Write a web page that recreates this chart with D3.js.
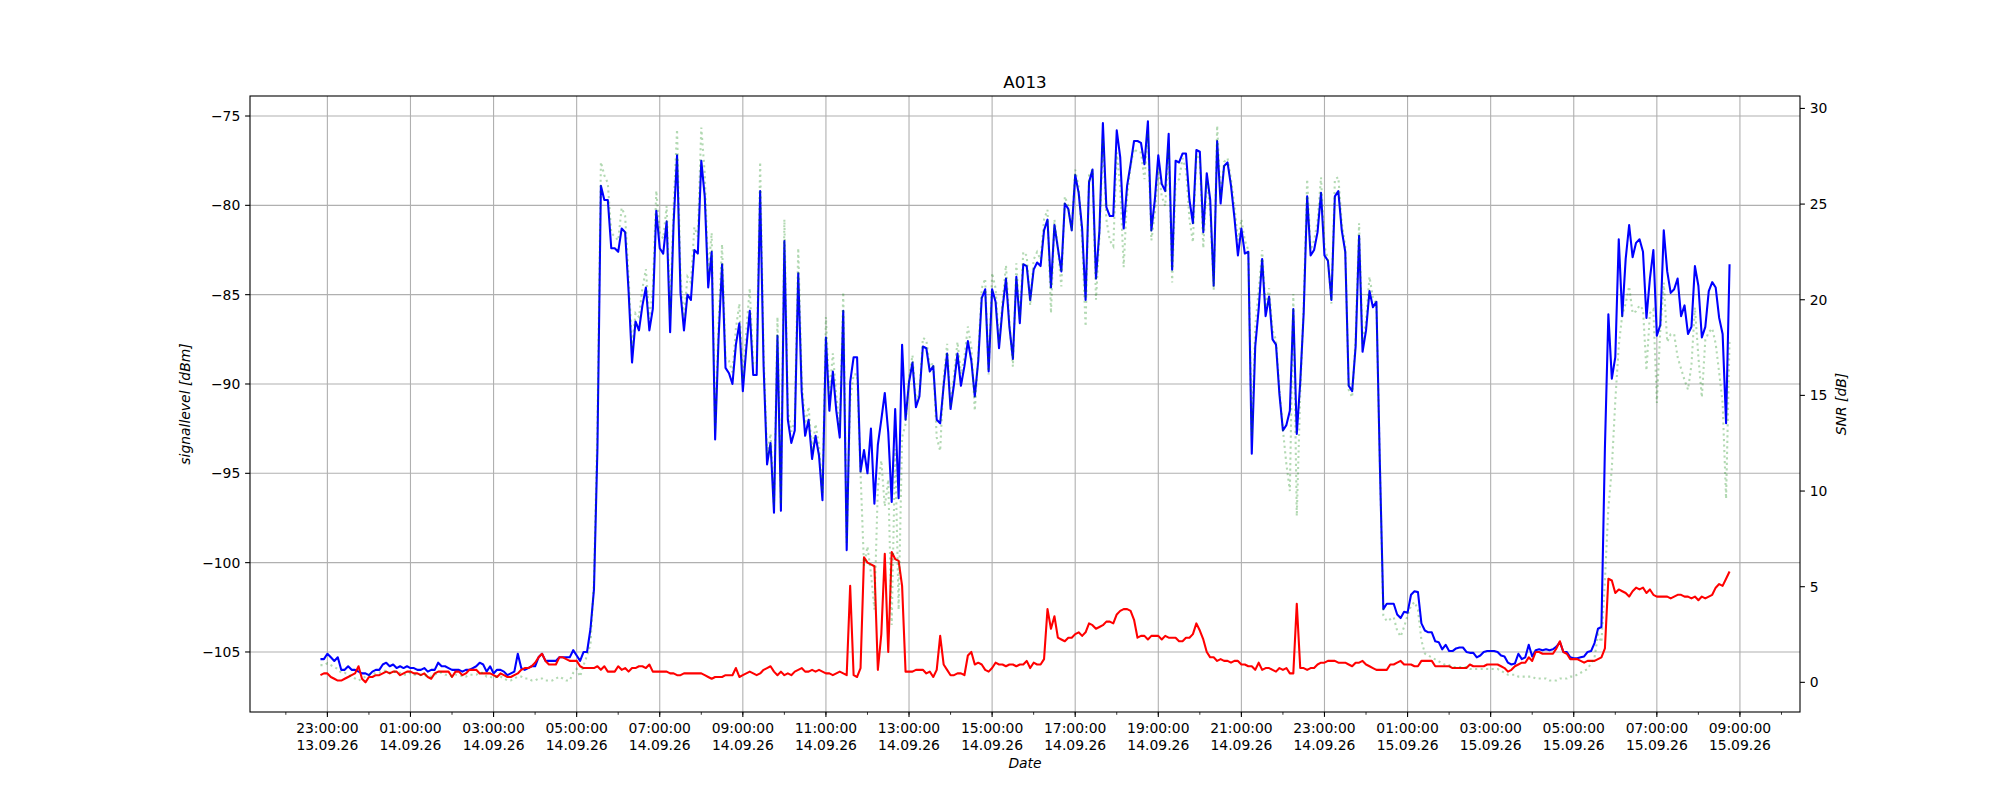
<!DOCTYPE html>
<html><head><meta charset="utf-8">
<script src="https://cdn.jsdelivr.net/npm/d3@7"></script>
<style>body{margin:0;background:#fff}svg text{font-family:"DejaVu Sans",sans-serif;fill:#000}</style>
</head><body><svg id="c" width="2000" height="800"></svg>
<script>
const title = "A013";
const startTime = "2026-09-13T22:50:00";
const stepMinutes = 5;
const signalLevel = [
-105.4,-105.4,-105.1,-105.3,-105.5,-105.3,-106.0,-106.0,-105.8,-106.0,
-106.0,-106.1,-106.2,-106.2,-106.3,-106.1,-106.0,-106.0,-105.7,-105.6,
-105.8,-105.7,-105.9,-105.8,-105.9,-105.8,-105.9,-105.9,-106.0,-106.0,
-105.9,-106.1,-106.0,-106.0,-105.6,-105.8,-105.8,-105.9,-106.0,-106.0,
-106.0,-106.1,-106.0,-106.0,-105.9,-105.8,-105.6,-105.7,-106.1,-105.8,
-106.2,-106.0,-106.0,-106.1,-106.3,-106.2,-106.1,-105.1,-105.9,-106.0,
-105.9,-105.8,-105.8,-105.3,-105.1,-105.5,-105.5,-105.5,-105.5,-105.3,
-105.3,-105.3,-105.3,-104.9,-105.2,-105.5,-105.0,-105.0,-103.7,-101.5,
-93.6,-78.9,-79.7,-79.7,-82.4,-82.4,-82.6,-81.3,-81.5,-84.8,
-88.8,-86.5,-87.0,-85.6,-84.6,-87.0,-85.8,-80.3,-82.4,-82.7,
-80.9,-87.1,-81.0,-77.2,-84.9,-87.0,-85.0,-85.3,-82.5,-82.7,
-77.5,-79.5,-84.6,-82.6,-93.1,-87.4,-83.3,-89.1,-89.4,-90.0,
-87.8,-86.6,-90.4,-88.0,-85.9,-89.5,-89.5,-79.2,-89.0,-94.5,
-93.3,-97.2,-87.3,-97.1,-82.0,-92.0,-93.3,-92.6,-83.8,-90.4,
-92.9,-92.0,-94.2,-92.9,-94.0,-96.5,-87.4,-91.5,-89.3,-91.5,
-93.0,-85.9,-99.3,-89.9,-88.5,-88.5,-94.9,-93.7,-95.0,-92.5,
-96.7,-93.4,-92.0,-90.5,-92.7,-96.6,-91.4,-96.4,-87.8,-92.0,
-89.9,-88.8,-91.3,-90.7,-87.9,-88.0,-89.3,-89.0,-92.0,-92.2,
-90.1,-88.3,-91.4,-90.0,-88.3,-90.1,-89.0,-87.6,-88.7,-90.7,
-88.7,-85.2,-84.7,-89.3,-84.7,-85.4,-88.0,-85.8,-84.1,-86.8,
-88.6,-84.0,-86.6,-83.3,-83.4,-85.3,-83.6,-83.2,-83.4,-81.4,
-80.8,-84.6,-81.1,-82.4,-83.7,-79.9,-80.2,-81.4,-78.3,-79.3,
-81.3,-85.3,-78.7,-78.0,-84.1,-81.4,-75.4,-80.1,-80.6,-80.6,
-75.8,-77.3,-81.3,-78.9,-77.7,-76.4,-76.4,-76.5,-77.7,-75.3,
-81.4,-79.7,-77.2,-78.8,-79.2,-76.0,-83.6,-77.5,-77.6,-77.1,
-77.1,-79.7,-81.0,-76.9,-77.0,-81.5,-78.2,-79.7,-84.5,-76.4,
-79.9,-77.8,-77.6,-78.9,-80.7,-82.8,-81.3,-82.7,-82.6,-93.9,
-87.9,-85.8,-83.0,-86.2,-85.1,-87.5,-87.8,-90.6,-92.6,-92.3,
-91.5,-85.8,-92.8,-89.9,-86.0,-79.5,-82.8,-82.5,-81.5,-79.3,
-82.8,-83.1,-85.3,-79.5,-79.2,-81.4,-82.6,-90.1,-90.4,-87.9,
-81.7,-88.2,-87.0,-84.8,-85.7,-85.4,-94.5,-102.6,-102.3,-102.3,
-102.3,-102.9,-103.1,-102.75,-102.8,-101.8,-101.6,-101.65,-103.4,-103.8,
-103.9,-103.9,-104.4,-104.45,-104.85,-104.6,-104.95,-104.95,-104.8,-104.75,
-104.75,-105.0,-105.05,-105.05,-105.3,-105.2,-105.0,-104.95,-104.95,-104.95,
-105.0,-105.2,-105.25,-105.6,-105.7,-105.65,-105.1,-105.4,-105.3,-104.6,
-105.25,-104.9,-104.85,-104.9,-104.85,-104.9,-104.85,-104.7,-104.45,-105.0,
-105.0,-105.3,-105.35,-105.35,-105.3,-105.25,-105.0,-104.95,-104.5,-103.7,
-103.6,-93.6,-86.1,-89.7,-88.5,-81.9,-86.2,-83.0,-81.1,-82.9,
-82.1,-81.9,-82.6,-86.3,-84.1,-82.5,-87.3,-86.7,-81.4,-83.7,
-84.9,-84.7,-84.1,-86.2,-85.6,-87.2,-86.8,-83.4,-84.5,-87.4,
-86.8,-84.8,-84.3,-84.6,-86.3,-87.2,-92.2,-83.3];
const secondLevel = [
-106.3,-106.2,-106.2,-106.4,-106.5,-106.6,-106.6,-106.5,-106.4,-106.3,
-106.2,-105.8,-106.5,-106.7,-106.4,-106.4,-106.3,-106.3,-106.2,-106.1,
-106.2,-106.1,-106.1,-106.3,-106.2,-106.1,-106.1,-106.2,-106.2,-106.3,
-106.2,-106.4,-106.5,-106.2,-106.1,-106.1,-106.1,-106.1,-106.4,-106.1,
-106.1,-106.3,-106.2,-106.0,-106.0,-106.0,-106.2,-106.2,-106.2,-106.2,
-106.3,-106.4,-106.2,-106.3,-106.4,-106.4,-106.3,-106.2,-106.0,-105.9,
-105.9,-105.8,-105.6,-105.3,-105.1,-105.5,-105.7,-105.7,-105.7,-105.3,
-105.3,-105.4,-105.5,-105.5,-105.5,-105.8,-105.9,-105.9,-105.9,-105.9,
-105.8,-106.0,-105.8,-106.1,-106.1,-106.1,-105.8,-106.0,-105.9,-106.1,
-105.9,-105.9,-105.8,-105.8,-105.9,-105.7,-106.1,-106.1,-106.1,-106.1,
-106.1,-106.2,-106.2,-106.3,-106.3,-106.2,-106.2,-106.2,-106.2,-106.2,
-106.2,-106.3,-106.4,-106.5,-106.4,-106.4,-106.4,-106.3,-106.3,-106.3,
-105.9,-106.4,-106.3,-106.2,-106.1,-106.2,-106.3,-106.2,-106.0,-105.9,
-105.8,-106.1,-106.3,-106.1,-106.3,-106.2,-106.3,-106.1,-106.0,-105.9,
-106.1,-106.1,-106.0,-106.1,-106.0,-106.1,-106.2,-106.2,-106.3,-106.2,
-106.1,-106.2,-106.3,-101.3,-106.3,-106.4,-105.9,-99.7,-100.0,-100.1,
-100.2,-106.0,-104.0,-99.5,-105.0,-99.4,-99.8,-99.9,-101.3,-106.1,
-106.1,-106.1,-106.0,-106.0,-106.0,-106.2,-106.1,-106.4,-106.0,-104.1,
-105.7,-106.0,-106.3,-106.3,-106.2,-106.2,-106.3,-105.2,-105.0,-105.7,
-105.6,-105.7,-106.0,-106.1,-105.9,-105.6,-105.7,-105.7,-105.8,-105.7,
-105.7,-105.8,-105.7,-105.7,-105.5,-105.9,-105.6,-105.7,-105.7,-105.4,
-102.6,-103.7,-103.0,-104.2,-104.3,-104.4,-104.2,-104.2,-104.0,-103.9,
-104.1,-103.9,-103.4,-103.5,-103.7,-103.6,-103.5,-103.3,-103.3,-103.4,
-102.9,-102.7,-102.6,-102.6,-102.7,-103.2,-104.2,-104.1,-104.1,-104.3,
-104.1,-104.1,-104.1,-104.3,-104.1,-104.2,-104.2,-104.2,-104.4,-104.4,
-104.2,-104.2,-104.0,-103.4,-103.8,-104.3,-105.0,-105.3,-105.3,-105.5,
-105.4,-105.5,-105.5,-105.6,-105.5,-105.5,-105.7,-105.7,-105.8,-105.8,
-106.0,-105.6,-106.0,-105.9,-105.9,-106.0,-106.1,-105.9,-106.0,-105.9,
-106.2,-106.2,-102.3,-105.9,-105.9,-106.0,-105.9,-105.9,-105.7,-105.6,
-105.6,-105.5,-105.5,-105.5,-105.6,-105.6,-105.6,-105.7,-105.8,-105.6,
-105.6,-105.5,-105.7,-105.8,-105.9,-106.0,-106.0,-106.0,-106.0,-105.7,
-105.7,-105.6,-105.5,-105.7,-105.7,-105.7,-105.8,-105.8,-105.5,-105.5,
-105.5,-105.5,-105.8,-105.8,-105.8,-105.8,-105.8,-105.9,-105.9,-105.9,
-105.9,-105.9,-105.7,-105.8,-105.8,-105.8,-105.8,-105.7,-105.7,-105.7,
-105.7,-105.8,-105.9,-106.1,-106.0,-105.8,-105.7,-105.6,-105.6,-105.3,
-105.5,-105.0,-105.0,-105.1,-105.1,-105.1,-105.1,-104.8,-104.4,-105.0,
-105.1,-105.4,-105.4,-105.4,-105.5,-105.6,-105.5,-105.5,-105.5,-105.4,
-105.3,-104.8,-100.9,-101.0,-101.7,-101.5,-101.6,-101.7,-101.9,-101.6,
-101.4,-101.5,-101.4,-101.7,-101.5,-101.8,-101.9,-101.9,-101.9,-101.9,
-102.0,-101.9,-101.8,-101.8,-101.9,-101.9,-102.0,-101.9,-102.1,-101.9,
-102.0,-101.9,-101.8,-101.4,-101.2,-101.3,-100.9,-100.5];
const snr = [
0.9,0.9,1.0,0.9,0.8,0.7,0.5,0.5,0.4,0.3,
0.2,0.1,0.2,0.3,0.4,0.4,0.5,0.5,0.6,0.6,
0.5,0.6,0.5,0.5,0.4,0.4,0.5,0.4,0.4,0.4,
0.4,0.3,0.3,0.4,0.5,0.5,0.4,0.4,0.3,0.4,
0.4,0.3,0.3,0.4,0.4,0.4,0.5,0.5,0.3,0.3,
0.2,0.3,0.3,0.2,0.1,0.1,0.2,0.3,0.3,0.2,
0.2,0.1,0.1,0.2,0.2,0.1,0.1,0.1,0.2,0.3,
0.2,0.1,0.1,0.5,0.7,0.3,0.9,1.4,2.0,5.3,
13.3,27.2,26.5,26.1,23.5,23.3,23.1,24.8,24.4,21.2,
17.5,19.3,19.1,20.6,21.6,19.0,20.5,25.7,23.5,23.2,
24.9,19.1,24.9,28.9,21.2,19.1,21.2,20.9,23.8,23.3,
29.0,26.6,21.4,23.5,13.2,18.9,22.9,16.9,16.8,16.2,
18.5,19.8,15.8,18.4,20.6,16.6,16.7,27.2,17.2,11.9,
13.0,9.2,19.1,9.3,24.2,14.3,13.1,13.7,22.7,15.9,
13.5,14.4,12.1,13.5,12.4,9.9,19.1,15.0,17.2,15.0,
13.3,20.4,7.3,14.7,16.1,16.1,10.9,6.1,7.1,5.7,
3.8,10.2,11.6,9.2,10.6,3.0,12.2,3.8,12.8,13.5,
15.9,17.1,14.7,15.1,18.0,17.9,16.5,16.7,12.8,12.1,
15.9,17.7,14.4,16.1,17.8,16.1,17.0,18.6,17.5,14.2,
17.1,20.6,21.1,16.1,21.4,20.6,17.7,19.9,21.8,18.8,
16.5,21.9,19.0,22.5,22.3,19.7,22.1,22.5,22.1,24.2,
24.7,19.3,24.2,22.7,20.7,25.4,24.9,23.6,26.8,25.9,
23.1,18.6,26.5,26.8,20.0,23.3,28.4,24.2,23.1,22.8,
27.7,25.9,21.7,25.4,27.0,27.9,27.7,27.7,26.3,28.7,
23.1,24.5,26.9,25.4,24.9,27.9,20.9,26.1,26.3,27.4,
26.8,24.2,23.0,27.6,27.3,22.7,26.2,24.7,20.5,29.1,
25.4,27.2,27.4,26.3,24.9,23.1,24.2,23.1,22.6,12.9,
18.6,20.5,22.6,19.6,20.6,18.4,17.9,15.3,13.2,11.4,
10.0,20.3,8.7,15.1,19.8,26.3,22.6,23.1,24.1,26.4,
22.8,22.1,19.8,26.3,26.4,24.0,22.8,15.3,14.9,18.0,
24.0,17.7,18.9,21.2,20.1,19.8,11.4,3.5,3.2,3.3,
3.4,2.7,2.4,2.9,3.5,4.0,4.2,3.8,2.2,1.5,
1.4,1.3,1.2,1.1,1.0,0.9,0.9,0.8,0.8,0.8,
0.8,0.8,0.7,0.7,0.7,0.7,0.7,0.7,0.7,0.7,
0.7,0.6,0.5,0.4,0.4,0.4,0.3,0.3,0.3,0.3,
0.3,0.2,0.2,0.2,0.2,0.1,0.1,0.1,0.2,0.2,
0.2,0.3,0.3,0.4,0.5,0.6,0.7,1.0,1.3,2.5,
2.1,5.3,9.1,11.2,14.7,17.6,19.2,19.8,20.7,19.3,
19.4,19.7,19.5,16.3,19.3,19.5,14.6,18.4,20.9,17.8,
18.2,18.2,17.0,16.4,15.8,15.3,16.6,19.6,17.0,14.9,
17.9,18.3,18.5,17.7,16.2,14.6,9.6,17.9];
const leftTicks = [-75,-80,-85,-90,-95,-100,-105];
const rightTicks = [0,5,10,15,20,25,30];
const leftDomain = [-108.36,-73.88];
const rightDomain = [-1.55,30.65];

const W=2000,H=800,L=250,R=1800,T=96,B=712;
const t0 = new Date(startTime);
const times = signalLevel.map((_,i)=>new Date(t0.getTime()+i*stepMinutes*60000));
const tMin=times[0], tMax=times[times.length-1], pad=(tMax-tMin)*0.05;
const x=d3.scaleTime().domain([new Date(+tMin-pad),new Date(+tMax+pad)]).range([L,R]);
const yL=d3.scaleLinear().domain(leftDomain).range([B,T]);
const yR=d3.scaleLinear().domain(rightDomain).range([B,T]);
const svg=d3.select("#c");
svg.append("rect").attr("width",W).attr("height",H).attr("fill","#fff");
const minor=x.ticks(d3.timeHour.every(1));
const major=minor.filter(d=>d.getHours()%2===1);
const g=svg.append("g");
g.selectAll(".gx").data(major).enter().append("line").attr("x1",d=>x(d)).attr("x2",d=>x(d)).attr("y1",T).attr("y2",B).attr("stroke","#b0b0b0").attr("stroke-width",1.1);
g.selectAll(".gy").data(leftTicks).enter().append("line").attr("x1",L).attr("x2",R).attr("y1",d=>yL(d)).attr("y2",d=>yL(d)).attr("stroke","#b0b0b0").attr("stroke-width",1.1);
svg.append("clipPath").attr("id","cp").append("rect").attr("x",L).attr("y",T).attr("width",R-L).attr("height",B-T);
const lines=svg.append("g").attr("clip-path","url(#cp)");
const lnL=d3.line().x((d,i)=>x(times[i])).y(d=>yL(d));
const lnR=d3.line().x((d,i)=>x(times[i])).y(d=>yR(d));
lines.append("path").attr("d",lnL(signalLevel)).attr("fill","none").attr("stroke","#0000ff").attr("stroke-width",2.08).attr("stroke-linejoin","round");
lines.append("path").attr("d",lnL(secondLevel)).attr("fill","none").attr("stroke","#ff0000").attr("stroke-width",2.08).attr("stroke-linejoin","round");
lines.append("path").attr("d",lnR(snr)).attr("fill","none").attr("stroke","#008000").attr("stroke-opacity",0.3).attr("stroke-width",2.08).attr("stroke-dasharray","2.1,3.4");
svg.append("rect").attr("x",L).attr("y",T).attr("width",R-L).attr("height",B-T).attr("fill","none").attr("stroke","#000").attr("stroke-width",1.1);
const fT=d3.timeFormat("%H:%M:%S"), fD=d3.timeFormat("%d.%m.%y");
minor.forEach(d=>{svg.append("line").attr("x1",x(d)).attr("x2",x(d)).attr("y1",B).attr("y2",B+2.8).attr("stroke","#000").attr("stroke-width",0.8);});
major.forEach(d=>{
 svg.append("line").attr("x1",x(d)).attr("x2",x(d)).attr("y1",B).attr("y2",B+4.9).attr("stroke","#000").attr("stroke-width",1.1);
 const tx=svg.append("text").attr("x",x(d)).attr("y",B+21).attr("text-anchor","middle").attr("font-size",13.9);
 tx.append("tspan").attr("x",x(d)).text(fT(d));
 tx.append("tspan").attr("x",x(d)).attr("dy",16.5).text(fD(d));
});
leftTicks.forEach(v=>{
 svg.append("line").attr("x1",L-4.9).attr("x2",L).attr("y1",yL(v)).attr("y2",yL(v)).attr("stroke","#000").attr("stroke-width",1.1);
 svg.append("text").attr("x",L-9.7).attr("y",yL(v)).attr("dy","0.35em").attr("text-anchor","end").attr("font-size",13.9).text("\u2212"+Math.abs(v));
});
rightTicks.forEach(v=>{
 svg.append("line").attr("x1",R).attr("x2",R+4.9).attr("y1",yR(v)).attr("y2",yR(v)).attr("stroke","#000").attr("stroke-width",1.1);
 svg.append("text").attr("x",R+9.7).attr("y",yR(v)).attr("dy","0.35em").attr("text-anchor","start").attr("font-size",13.9).text(v);
});
svg.append("text").attr("x",(L+R)/2).attr("y",T-8.5).attr("text-anchor","middle").attr("font-size",16.7).text(title);
svg.append("text").attr("x",(L+R)/2).attr("y",768).attr("text-anchor","middle").attr("font-size",13.9).attr("font-style","italic").text("Date");
svg.append("text").attr("transform",`translate(190,${(T+B)/2}) rotate(-90)`).attr("text-anchor","middle").attr("font-size",13.9).attr("font-style","italic").text("signallevel [dBm]");
svg.append("text").attr("transform",`translate(1846,${(T+B)/2}) rotate(-90)`).attr("text-anchor","middle").attr("font-size",13.9).attr("font-style","italic").text("SNR [dB]");
</script></body></html>
